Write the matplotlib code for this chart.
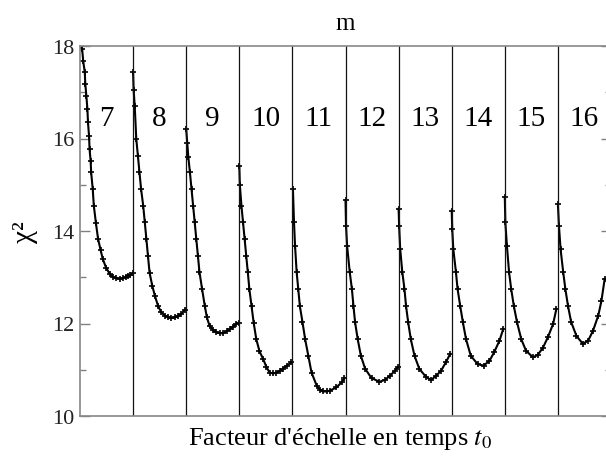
import numpy as np
import matplotlib
matplotlib.use("Agg")
import matplotlib.pyplot as plt

# panel labels (number of scales m) and chi^2 curves
# x values are positions inside each panel (0 = left boundary, 1 = right boundary)
panels = [7, 8, 9, 10, 11, 12, 13, 14, 15, 16]

x7 = [0.01, 0.04, 0.06, 0.09, 0.10, 0.12, 0.14, 0.15, 0.17, 0.18, 0.20, 0.21, 0.24, 0.26,
      0.30, 0.34, 0.39, 0.43, 0.49, 0.56, 0.62, 0.68, 0.75, 0.81, 0.86, 0.90, 0.95, 1.00]
chi7 = [18.0, 17.94, 17.68, 17.43, 17.18, 16.92, 16.63, 16.35, 16.06, 15.77, 15.52, 15.27, 14.90, 14.55,
        14.17, 13.83, 13.58, 13.39, 13.21, 13.07, 13.01, 12.98, 12.97, 12.98, 13.00, 13.02, 13.05, 13.09]

x8 = [0.00, 0.01, 0.03, 0.06, 0.09, 0.12, 0.15, 0.19, 0.22, 0.25, 0.28, 0.31, 0.36, 0.41,
      0.47, 0.53, 0.60, 0.66, 0.72, 0.78, 0.85, 0.91, 0.98]
chi8 = [17.43, 17.05, 16.71, 15.99, 15.63, 15.27, 14.91, 14.55, 14.19, 13.83, 13.46, 13.10, 12.82, 12.60,
        12.38, 12.24, 12.17, 12.13, 12.12, 12.13, 12.16, 12.21, 12.30]

x9 = [0.00, 0.02, 0.04, 0.07, 0.10, 0.13, 0.16, 0.19, 0.22, 0.25, 0.30, 0.35, 0.39, 0.44,
      0.51, 0.57, 0.63, 0.69, 0.76, 0.82, 0.88, 0.94, 0.99]
chi9 = [16.21, 15.90, 15.60, 15.27, 14.91, 14.55, 14.19, 13.83, 13.47, 13.11, 12.74, 12.38, 12.13, 11.95,
        11.86, 11.81, 11.79, 11.79, 11.83, 11.88, 11.93, 11.99, 12.02]

x10 = [0.00, 0.01, 0.04, 0.07, 0.10, 0.13, 0.16, 0.19, 0.23, 0.27, 0.32, 0.38, 0.45, 0.51,
       0.57, 0.64, 0.70, 0.76, 0.82, 0.90, 0.98]
chi10 = [15.41, 15.00, 14.55, 14.19, 13.83, 13.47, 13.11, 12.74, 12.38, 12.02, 11.66, 11.40, 11.23, 11.06,
         10.94, 10.92, 10.94, 10.97, 11.02, 11.09, 11.16]

x11 = [0.01, 0.03, 0.05, 0.08, 0.11, 0.14, 0.19, 0.24, 0.30, 0.36, 0.46, 0.52, 0.58, 0.65,
       0.71, 0.83, 0.93, 0.98]
chi11 = [14.91, 14.19, 13.68, 13.11, 12.75, 12.38, 12.03, 11.66, 11.30, 10.94, 10.65, 10.57, 10.53, 10.53,
         10.55, 10.62, 10.73, 10.82]

x12 = [0.00, 0.01, 0.03, 0.08, 0.12, 0.15, 0.18, 0.23, 0.29, 0.37, 0.49, 0.64, 0.74, 0.84,
       0.93, 0.98]
chi12 = [14.66, 14.11, 13.68, 13.11, 12.75, 12.38, 12.03, 11.66, 11.30, 11.02, 10.82, 10.74, 10.78, 10.87,
         10.98, 11.05]

x13 = [0.00, 0.01, 0.03, 0.07, 0.11, 0.14, 0.18, 0.23, 0.30, 0.39, 0.52, 0.61, 0.70, 0.80,
       0.89, 0.97]
chi13 = [14.48, 14.11, 13.61, 13.11, 12.75, 12.38, 12.03, 11.66, 11.30, 11.02, 10.84, 10.78, 10.86, 10.98,
         11.16, 11.34]

x14 = [0.00, 0.01, 0.03, 0.08, 0.11, 0.16, 0.21, 0.27, 0.36, 0.49, 0.60, 0.71, 0.80, 0.90, 0.97]
chi14 = [14.44, 14.04, 13.61, 13.11, 12.75, 12.38, 12.03, 11.66, 11.30, 11.12, 11.09, 11.19, 11.38,
         11.63, 11.88]

x15 = [0.00, 0.01, 0.04, 0.08, 0.12, 0.17, 0.23, 0.31, 0.40, 0.53, 0.62, 0.72, 0.81, 0.91, 0.97]
chi15 = [14.73, 14.19, 13.68, 13.11, 12.75, 12.38, 12.03, 11.66, 11.41, 11.27, 11.32, 11.48, 11.70,
         11.99, 12.31]

x16 = [0.00, 0.02, 0.05, 0.10, 0.14, 0.19, 0.25, 0.35, 0.47, 0.57, 0.66, 0.76, 0.82, 0.88]
chi16 = [14.58, 14.11, 13.61, 13.11, 12.75, 12.38, 12.03, 11.73, 11.56, 11.63, 11.84, 12.17, 12.49, 12.96]

xs = [x7, x8, x9, x10, x11, x12, x13, x14, x15, x16]
chis = [chi7, chi8, chi9, chi10, chi11, chi12, chi13, chi14, chi15, chi16]

plt.rcParams['font.family'] = ['Liberation Serif', 'DejaVu Serif']
plt.rcParams['mathtext.fontset'] = 'stix'

fig = plt.figure(figsize=(6.06, 4.64), dpi=100)
# the right edge of the axes runs slightly past the picture, like the original
ax = fig.add_axes([80 / 606, 47 / 464, 531 / 606, 370 / 464])

for i, (m, x, c) in enumerate(zip(panels, xs, chis)):
    ax.plot(i + np.array(x), c, color='black', lw=1.5, marker='+', ms=4, mew=1.2)
    ax.text(i + 0.5, 16.45, str(m), ha='center', va='center', fontsize=21)
    if i > 0:
        ax.axvline(i, color='#111111', lw=0.9)

ax.set_xlim(0, len(panels))
ax.set_ylim(10, 18)
ax.set_yticks([10, 12, 14, 16, 18])
ax.set_yticks([11, 13, 15, 17], minor=True)
ax.set_xticks([])
ax.tick_params(axis='y', which='both', direction='in', right=True, colors='#808080',
               labelcolor='#222222', labelsize=16, pad=4)
ax.tick_params(axis='y', which='major', length=7, width=1)
ax.tick_params(axis='y', which='minor', length=4, width=1)
for s in ax.spines.values():
    s.set_color('#888888')
    s.set_linewidth(1.2)

ax.set_title('m', fontsize=18, pad=12)
ax.set_ylabel('χ²', fontsize=21, labelpad=10)
ax.set_xlabel(r"Facteur d'échelle en temps $t_{\mathit{0}}$", fontsize=19)
ax.xaxis.set_label_coords(260 / 531, -0.025)

fig.savefig('out.png', dpi=100)
